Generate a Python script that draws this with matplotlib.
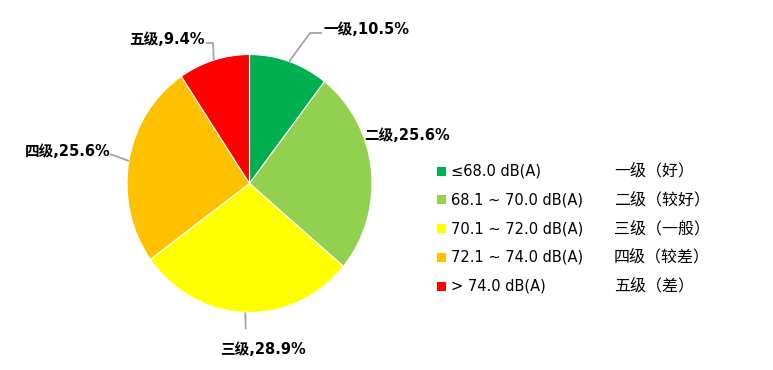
import matplotlib
matplotlib.use("Agg")
import matplotlib.pyplot as plt
from matplotlib.patches import Rectangle
import numpy as np

plt.rcParams['font.family'] = ['DejaVu Sans', 'Noto Sans CJK SC']

grades = ["一级", "二级", "三级", "四级", "五级"]
shares = [10.5, 25.6, 28.9, 25.6, 9.4]
ranges = ["≤68.0 dB(A)", "68.1 ~ 70.0 dB(A)", "70.1 ~ 72.0 dB(A)", "72.1 ~ 74.0 dB(A)", "> 74.0 dB(A)"]
quality = ["一级（好）", "二级（较好）", "三级（一般）", "四级（较差）", "五级（差）"]
colors = ["#00B050", "#92D050", "#FFFF00", "#FFC000", "#FF0000"]

W, H = 773, 370
fig = plt.figure(figsize=(W / 100, H / 100), dpi=100)

# overlay axes in pixel coordinates (y up)
ov = fig.add_axes([0, 0, 1, 1])
ov.set_xlim(0, W)
ov.set_ylim(0, H)
ov.axis('off')

# pie axes (slightly elliptical like the original)
cx, cy = 249.5, H - 183.5
rx, ry = 122.5, 129.0
pa = fig.add_axes([(cx - rx) / W, (cy - ry) / H, 2 * rx / W, 2 * ry / H])
wedges, _ = pa.pie(shares, colors=colors, startangle=90, counterclock=False,
                   radius=1, frame=True,
                   wedgeprops=dict(edgecolor='white', linewidth=0.8))
pa.set_aspect('auto')
pa.set_xlim(-1, 1)
pa.set_ylim(-1, 1)
pa.axis('off')
pa.set_zorder(1)
ov.set_zorder(2)
ov.patch.set_alpha(0)

label_cfg = [
    # elbow point, line end, text xy, ha
    ((310, H - 33), (322, H - 33), (324, H - 29), 'left'),
    (None, None, (364, H - 136), 'left'),
    ((245.7, H - 329), None, (263, H - 349), 'center'),
    ((110, H - 154), None, (111, H - 151), 'right'),
    ((213, H - 43), (206, H - 43), (205, H - 39), 'right'),
]

for w, g, s, (elb, end, txy, ha) in zip(wedges, grades, shares, label_cfg):
    ang = np.deg2rad((w.theta1 + w.theta2) / 2)
    ax_ = cx + rx * np.cos(ang)
    ay_ = cy + ry * np.sin(ang)
    if elb is not None:
        xs = [ax_, elb[0]]
        ys = [ay_, elb[1]]
        if end is not None:
            xs.append(end[0]); ys.append(end[1])
        ov.plot(xs, ys, color='#A6A6A6', lw=1.3, solid_capstyle='butt')
    ov.text(txy[0], txy[1], f"{g},{s:.1f}%", ha=ha, va='center',
            fontsize=10.5, fontweight='bold', color='black')

# legend
y0 = H - 171
dy = 28.8
for i, (rg, q, c) in enumerate(zip(ranges, quality, colors)):
    y = y0 - i * dy
    ov.add_patch(Rectangle((437, y - 4.5), 9, 9, facecolor=c, edgecolor='none'))
    ov.text(451, y, rg, ha='left', va='center', fontsize=10.5, color='black')
    ov.text(614, y, q, ha='left', va='center', fontsize=11.5, color='black',
            family=['Noto Sans CJK SC', 'DejaVu Sans'])

fig.savefig("out.png", dpi=100)
